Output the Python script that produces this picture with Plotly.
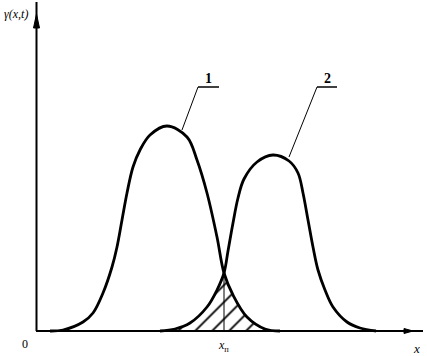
import plotly.graph_objects as go

# Curve samples (x to the right of the origin, y above the x-axis)
curve1_x = [14, 27, 47, 57, 67, 76, 81, 86, 91, 97, 104, 114, 131, 151, 161, 171, 181, 188, 197, 211, 229, 244]
curve1_y = [0, 1, 9, 18, 38, 64, 84, 111, 138, 164, 181, 196, 205, 194, 171, 138, 94, 58, 36, 14, 2, 0]

curve2_x = [124, 139, 154, 171, 181, 188, 192, 197, 202, 208, 221, 237, 253, 262, 267, 272, 277, 282, 289, 297, 311, 324, 340]
curve2_y = [0, 2, 8, 24, 41, 58, 80, 108, 133, 152, 169, 176, 170, 158, 138, 111, 84, 61, 41, 24, 9, 3, 0]

# Overlap (hatched) region: left part under curve 2, right part under curve 1
overlap_left_x = [136, 139, 154, 171, 181, 188]
overlap_left_y = [0, 2, 8, 24, 41, 58]
overlap_right_x = [188, 197, 211, 229, 232]
overlap_right_y = [58, 36, 14, 2, 0]

x_p = 188  # position of x_п

curve_labels = ["1", "2"]

FONT = "Liberation Serif"

fig = go.Figure()

hatch = dict(shape="/", size=12, solidity=0.15, fgcolor="black", bgcolor="white", fgopacity=1)
for xs, ys in [(overlap_left_x, overlap_left_y), (overlap_right_x, overlap_right_y)]:
    fig.add_trace(go.Scatter(
        x=xs, y=ys, mode="lines", line=dict(width=0, shape="spline", color="black"),
        fill="tozeroy", fillcolor="white", fillpattern=hatch,
        hoverinfo="skip", showlegend=False))

for xs, ys in [(curve1_x, curve1_y), (curve2_x, curve2_y)]:
    fig.add_trace(go.Scatter(
        x=xs, y=ys, mode="lines",
        line=dict(color="black", width=2.8, shape="spline", smoothing=1.0),
        showlegend=False, hoverinfo="skip"))

shapes = [
    # axes
    dict(type="line", x0=0.5, y0=0, x1=0.5, y1=329, line=dict(color="black", width=2)),
    dict(type="line", x0=0, y0=0, x1=387, y1=0, line=dict(color="black", width=2)),
    # arrowheads
    dict(type="path", path="M 0.5 317 L -2.5 303 L 3.5 303 Z", fillcolor="black",
         line=dict(color="black", width=1)),
    dict(type="path", path="M 377 0 L 368 2.5 L 368 -2.5 Z", fillcolor="black",
         line=dict(color="black", width=1)),
    # x_п vertical line
    dict(type="line", x0=x_p, y0=0, x1=x_p, y1=58, line=dict(color="black", width=1)),
    # leader lines
    dict(type="line", x0=162, y0=244, x1=183, y1=244, line=dict(color="black", width=1.5)),
    dict(type="line", x0=162, y0=244, x1=146, y1=201, line=dict(color="black", width=1)),
    dict(type="line", x0=281, y0=244, x1=301, y1=244, line=dict(color="black", width=1.5)),
    dict(type="line", x0=281, y0=244, x1=253, y1=174, line=dict(color="black", width=1)),
]

annotations = [
    dict(x=-34, y=317, text="<i>γ(x,t)</i>", xanchor="left", yanchor="middle",
         font=dict(size=12, family=FONT)),
    dict(x=-11, y=-13, text="0", font=dict(size=12, family=FONT)),
    dict(x=380, y=-17, text="<i>x</i>", font=dict(size=13, family=FONT)),
    dict(x=x_p - 1, y=-15, text="<i>x</i><sub>п</sub>", font=dict(size=12, family=FONT)),
    dict(x=172, y=253, text="<b>" + curve_labels[0] + "</b>", font=dict(size=14, family=FONT)),
    dict(x=291, y=253, text="<b>" + curve_labels[1] + "</b>", font=dict(size=14, family=FONT)),
]
for a in annotations:
    a.update(showarrow=False, xref="x", yref="y")
    a["font"]["color"] = "black"

fig.update_layout(
    width=427, height=356,
    margin=dict(l=0, r=0, t=0, b=0),
    paper_bgcolor="white", plot_bgcolor="white",
    xaxis=dict(range=[-36, 391], visible=False, fixedrange=True),
    yaxis=dict(range=[-25, 331], visible=False, fixedrange=True),
    shapes=shapes, annotations=annotations,
    showlegend=False,
)

fig.write_html("out.html", config={"displayModeBar": False},
               post_script="document.body.style.margin='0px';")
